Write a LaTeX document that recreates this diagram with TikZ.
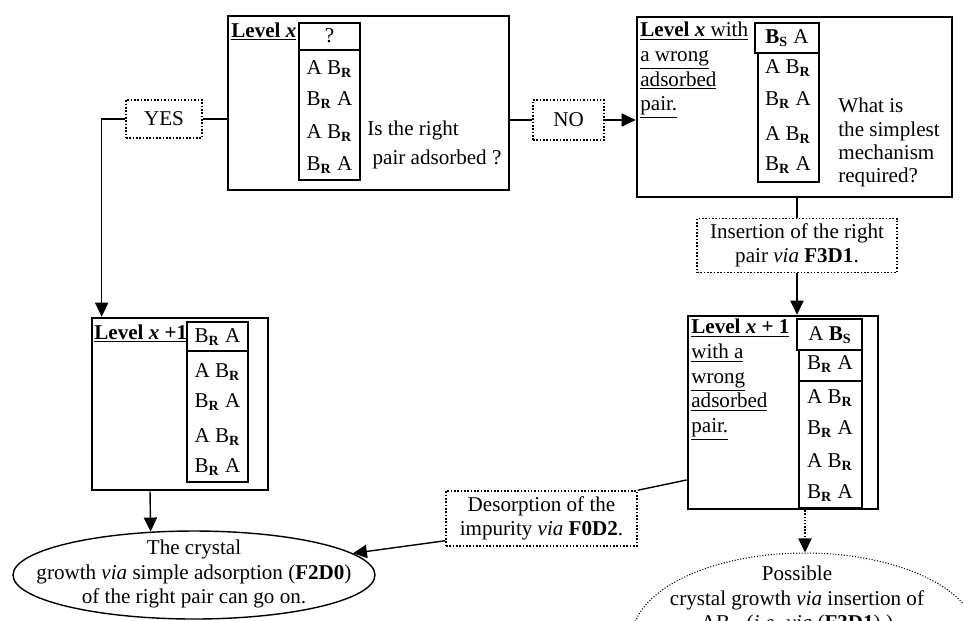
\documentclass[tikz,border=0pt]{standalone}
\usepackage{fontspec}
\setmainfont{Liberation Serif}
\usetikzlibrary{arrows.meta, positioning, shapes.geometric, fit, calc}
\newcommand{\pairAB}{A B\textsubscript{\textbf{R}}}
\newcommand{\pairBA}{B\textsubscript{\textbf{R}} A}

\begin{document}
\begin{tikzpicture}[x=0.02cm, y=-0.02cm, font=\fontsize{12}{14}\selectfont,
    levelbox/.style={draw, line width=1.5pt, inner sep=0pt},
    choicebox/.style={draw, densely dotted, line width=0.9pt, align=center, inner sep=2pt},
    colline/.style={line width=0.7pt},
    topcell/.style={line width=1.3pt},
    cell/.style={inner sep=0pt},
    link/.style={line width=0.8pt},
    arr/.style={link, -{Triangle[length=8pt, width=7.5pt]}}]
    \useasboundingbox (0,0) rectangle (963,620);
    \clip (0,0) rectangle (963,620);

    % Level x
    \node[levelbox, fit={(228,16) (509,190)}] (lvlx) {};
    \node[cell, anchor=base west] (lvlxlab) at (231,37) {\underline{\textbf{Level \textit{x}}}};
    \draw[colline] (299,23) rectangle (360,180);
    \draw[colline] (299,50) -- (360,50);
    \node[cell] (c1h) at (329.5,36) {?};
    \node[cell] (c1a) at (329.5,69) {\pairAB};
    \node[cell] (c1b) at (329.5,100) {\pairBA};
    \node[cell] (c1c) at (329.5,133) {\pairAB};
    \node[cell] (c1d) at (329.5,165) {\pairBA};
    \node[cell, anchor=north west, align=left] (askright) at (367,121) {Is the right\\[2pt]{}\ pair adsorbed ?};

    % Level x with a wrong pair
    \node[levelbox, fit={(637,17) (952,197)}] (wrong) {};
    \node[cell, anchor=north west, align=left] (wronglab) at (640,22) {\underline{\textbf{Level \textit{x}} with}\\ \underline{a wrong}\\ \underline{adsorbed}\\ \underline{pair.}};
    \draw[colline] (758,53) rectangle (819,182);
    \draw[topcell] (755,23) rectangle (819,53);
    \node[cell] (c2h) at (787,38) {\textbf{B\textsubscript{S}} A};
    \node[cell] (c2a) at (788,68) {\pairAB};
    \node[cell] (c2b) at (788,100) {\pairBA};
    \node[cell] (c2c) at (788,135) {\pairAB};
    \node[cell] (c2d) at (788,165) {\pairBA};
    \node[cell, anchor=north west, align=left, font=\fontsize{12}{13.2}\selectfont] (mechq) at (838,98) {What is\\ the simplest\\ mechanism\\ required?};

    % Level x+1
    \node[levelbox, fit={(92,318) (268,490)}] (lvlnext) {};
    \node[cell, anchor=base west] (lvlnextlab) at (94,339) {\underline{\textbf{Level \textit{x} +1}}};
    \draw[colline] (187,322) rectangle (248,482);
    \draw[colline] (187,351) -- (248,351);
    \node[cell] (c3h) at (217.5,337) {\pairBA};
    \node[cell] (c3a) at (217.5,372) {\pairAB};
    \node[cell] (c3b) at (217.5,402) {\pairBA};
    \node[cell] (c3c) at (217.5,437) {\pairAB};
    \node[cell] (c3d) at (217.5,467) {\pairBA};

    % Level x+1 with a wrong pair
    \node[levelbox, fit={(688,316) (878,509)}] (nextwrong) {};
    \node[cell, anchor=north west, align=left] (nextwronglab) at (691,319) {\underline{\textbf{Level \textit{x} + 1}}\\ \underline{with a}\\ \underline{wrong}\\ \underline{adsorbed}\\ \underline{pair.}};
    \draw[colline] (799,350) rectangle (862,508);
    \draw[colline] (799,381) -- (862,381);
    \draw[topcell] (797,319) rectangle (862,350);
    \node[cell] (c4h) at (830,335) {A \textbf{B\textsubscript{S}}};
    \node[cell] (c4s) at (830,364) {\pairBA};
    \node[cell] (c4a) at (830,398) {\pairAB};
    \node[cell] (c4b) at (830,429) {\pairBA};
    \node[cell] (c4c) at (830,462) {\pairAB};
    \node[cell] (c4d) at (830,493) {\pairBA};

    % Answers and mechanisms
    \node[choicebox, minimum width=1.52cm, minimum height=0.76cm] (yes) at (164,119) {YES};
    \node[choicebox, minimum width=1.42cm, minimum height=0.8cm] (no) at (568.5,120) {NO};
    \node[choicebox, minimum width=4cm, minimum height=1.08cm] (insert) at (797,245.5) {Insertion of the right\\ pair \textit{via} \textbf{F3D1}.};
    \node[choicebox, minimum width=3.82cm, minimum height=1.1cm] (desorb) at (541.5,518.5) {Desorption of the\\ impurity \textit{via} \textbf{F0D2}.};

    % Outcomes
    \node[draw, ellipse, link, minimum width=7.24cm, minimum height=1.76cm] (grow) at (194,575) {};
    \node[cell, align=center] (growtxt) at (194,574) {The crystal\\ growth \textit{via} simple adsorption (\textbf{F2D0})\\ of the right pair can go on.};
    \node[draw, ellipse, densely dotted, line width=0.6pt, minimum width=6.92cm, minimum height=3.4cm] (possible) at (805,638) {};
    \node[cell, align=center] (possibletxt) at (797,600) {Possible\\ crystal growth \textit{via} insertion of\\ AB\textsubscript{\textbf{R}} (\textit{i.e. via} (\textbf{F3D1}).)};

    % Connectors
    \draw[link] (lvlx.west |- yes.east) -- (yes.east);
    \draw[arr] (yes.west) -| ([xshift=0.22cm]lvlnext.north west);
    \draw[link] (lvlx.east |- no.west) -- (no.west);
    \draw[arr] (no.east) -- (wrong.west |- no.east);
    \draw[link] (wrong.south -| insert.north) -- (insert.north);
    \draw[arr] (insert.south) -- (insert.south |- nextwrong.north);
    \draw[arr] ([xshift=-0.6cm]lvlnext.south) -- (grow.135);
    \draw[link] (nextwrong.215) -- (desorb.north east);
    \draw[arr] (desorb.193) -- (grow);
    \draw[arr, densely dotted] (nextwrong.south -| possible.north) -- (possible.north);
\end{tikzpicture}
\end{document}
